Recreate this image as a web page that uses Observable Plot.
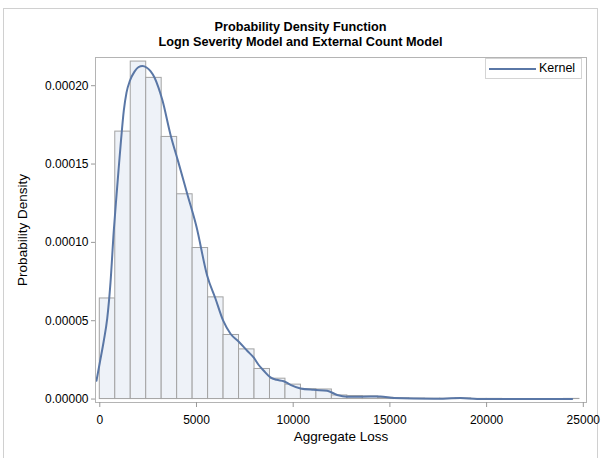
<!DOCTYPE html>
<html><head><meta charset="utf-8">
<script src="https://cdn.jsdelivr.net/npm/d3@7"></script>
<script src="https://cdn.jsdelivr.net/npm/@observablehq/plot@0.6"></script>
<style>
body{margin:0;font-family:"Liberation Sans",Arial,sans-serif;background:#fff;}
#wrap{position:relative;width:601px;height:458px;overflow:hidden;background:#fff;}
#border{position:absolute;left:3px;top:8px;width:593px;height:470px;border:1px solid #d0d0d0;}
#title{position:absolute;left:0;top:20px;width:601px;text-align:center;font-weight:bold;font-size:12.7px;line-height:15px;color:#000;}
#chart{position:absolute;left:0;top:0;}
#legend{position:absolute;left:485px;top:58px;width:95px;height:19px;border:1px solid #d4d4d4;background:#fff;font-size:12.5px;}
#legend .ln{position:absolute;left:3px;top:9px;width:47px;height:0;border-top:2px solid #5a77a6;}
#legend .tx{position:absolute;left:53px;top:2px;}
</style></head>
<body>
<div id="wrap">
  <div id="border"></div>
  <div id="chart"></div>
  <div id="title">Probability Density Function<br>Logn Severity Model and External Count Model</div>
  <div id="legend"><div class="ln"></div><div class="tx">Kernel</div></div>
</div>
<script>
// Histogram: bin width and densities (bins start at 0)
const binWidth = 800;
const densities = [
  0.0000642, 0.0001707, 0.0002154, 0.0002050, 0.0001673, 0.0001307, 0.0000964, 0.0000649,
  0.0000409, 0.0000317, 0.0000192, 0.0000130, 0.0000092, 0.0000063, 0.0000061, 0.0000023,
  0.0000019, 0.0000017, 0.0000008, 0.0000005, 0.0000003, 0.0000002, 0.0000002, 0.0000004,
  0.0000001, 0.0000001, 0.0000000, 0.0000000, 0.0000000, 0.0000000, 0.0000001
];
// Kernel density estimate
const kernelX = [-171, 0, 207, 383, 553, 724, 863, 967, 1096, 1241, 1381, 1562, 1794, 2001, 2208, 2415, 2622, 2828, 3035, 3242, 3656, 4069, 4519, 5000, 5553, 5983, 6380, 6758, 7187, 7621, 7963, 8206, 8480, 8826, 9137, 9514, 9860, 10378, 11065, 11756, 12275, 12792, 13480, 14514, 15200, 17270, 18650, 19510, 24425];
const kernelY = [0.0000117, 0.0000232, 0.0000372, 0.0000513, 0.0000743, 0.0001075, 0.0001298, 0.0001458, 0.0001649, 0.0001841, 0.0001956, 0.0002033, 0.0002090, 0.0002119, 0.0002125, 0.0002116, 0.0002093, 0.0002052, 0.0001988, 0.0001905, 0.0001687, 0.0001509, 0.0001311, 0.0001100, 0.0000787, 0.0000640, 0.0000500, 0.0000417, 0.0000366, 0.0000308, 0.0000264, 0.0000219, 0.0000181, 0.0000138, 0.0000123, 0.0000114, 0.0000091, 0.0000068, 0.0000059, 0.0000053, 0.0000026, 0.0000015, 0.0000015, 0.0000017, 0.0000006, 0.0000002, 0.0000006, 0.0000001, 0.0000000];
const xTicks = [0, 5000, 10000, 15000, 20000, 25000];
const yTicks = [0, 0.00005, 0.0001, 0.00015, 0.0002];
const xLabel = "Aggregate Loss";
const yLabel = "Probability Density";

const bins = densities.map((d, i) => ({x1: i * binWidth, x2: (i + 1) * binWidth, d}));
const kernel = kernelX.map((x, i) => ({x, y: kernelY[i]}));

const chart = Plot.plot({
  width: 601, height: 458,
  marginLeft: 95, marginRight: 15, marginTop: 57, marginBottom: 56,
  style: {fontFamily: "'Liberation Sans', Arial, sans-serif", fontSize: "12px", color: "#000", background: "transparent"},
  x: {domain: [-222, 25165]},
  y: {domain: [-0.0000022, 0.000218]},
  marks: [
    Plot.rect(bins, {x1: "x1", x2: "x2", y1: 0, y2: "d", fill: "#eef2f8", stroke: "#a3a3a3", strokeWidth: 1}),
    Plot.line(kernel, {x: "x", y: "y", curve: "monotone-x", stroke: "#5a77a6", strokeWidth: 2}),
    Plot.frame({stroke: "#b4b4b4"}),
    Plot.axisX({ticks: xTicks, tickFormat: d => String(d), tickSize: 5, tickPadding: 8, fontSize: 12, label: null, stroke: "#999"}),
    Plot.axisY({ticks: yTicks, tickFormat: d3.format(".5f"), tickSize: 4, tickPadding: 3, fontSize: 12, label: null, stroke: "#999"}),
    Plot.text([xLabel], {frameAnchor: "bottom", dy: 38, fontSize: 13.5, fill: "#000"}),
    Plot.text([yLabel], {frameAnchor: "left", textAnchor: "middle", dx: -73, rotate: -90, fontSize: 13.5, fill: "#000"})
  ]
});
document.getElementById("chart").appendChild(chart);
</script>
</body></html>
